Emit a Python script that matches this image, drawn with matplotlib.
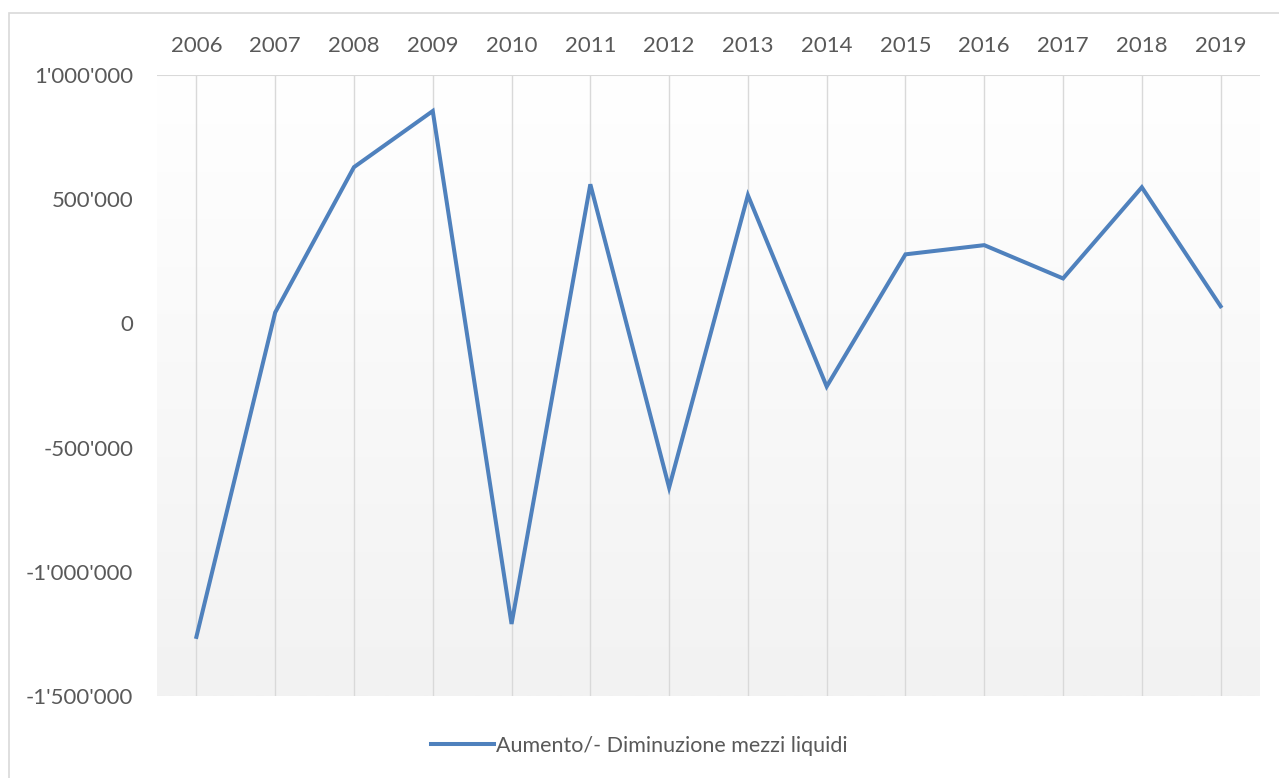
import numpy as np
import matplotlib
matplotlib.use("Agg")
from matplotlib import pyplot as plt
from matplotlib.patches import Rectangle
from matplotlib.ticker import FuncFormatter

years = ['2006', '2007', '2008', '2009', '2010', '2011', '2012',
         '2013', '2014', '2015', '2016', '2017', '2018', '2019']
values = [-1262000, 44000, 629000, 855000, -1210000, 560000, -661000,
          516000, -254000, 278000, 315000, 181000, 548000, 69000]
label = 'Aumento/- Diminuzione mezzi liquidi'

plt.rcParams['font.family'] = ['Lato', 'DejaVu Sans']
txt = '#595959'

W, H = 1279, 778
fig = plt.figure(figsize=(W / 100, H / 100), dpi=100)
# bordo del grafico
fig.patches.append(Rectangle((9 / W, -0.01), 1.02, 1 - 13 / H + 0.01, transform=fig.transFigure,
                             fill=False, edgecolor='#d9d9d9', linewidth=1.2))

ax = fig.add_axes([157 / W, 1 - 696 / H, (1260 - 157) / W, (696 - 75) / H])
x = np.arange(len(years))
ax.set_xlim(-0.5, len(years) - 0.5)
ax.set_ylim(-1500000, 1000000)

# sfondo sfumato
grad = np.linspace(0, 1, 256).reshape(-1, 1)
c0 = np.array([1.0, 1.0, 1.0])
c1 = np.array([0xf2, 0xf2, 0xf2]) / 255
img = c0 + (c1 - c0) * grad[..., None]
ax.imshow(img, extent=[-0.5, len(years) - 0.5, -1500000, 1000000], aspect='auto', zorder=0)

for xi in x:
    ax.axvline(xi, color='#d9d9d9', linewidth=1.0, zorder=1)
ax.axhline(1000000, color='#d9d9d9', linewidth=1.5, zorder=1)

ax.plot(x, values, color='#4f81bd', linewidth=2.9, label=label, zorder=3,
        solid_joinstyle='miter')

for s in ax.spines.values():
    s.set_visible(False)
ax.xaxis.tick_top()
ax.set_xticks(x)
ax.set_xticklabels(years)
ax.set_yticks(np.arange(-1500000, 1000001, 500000))
ax.yaxis.set_major_formatter(FuncFormatter(lambda v, p: f'{int(v):,}'.replace(',', "'")))
ax.tick_params(axis='both', length=0, labelsize=16, labelcolor=txt)
ax.tick_params(axis='x', pad=14)
ax.tick_params(axis='y', pad=17)

leg = fig.legend(loc='center', bbox_to_anchor=(0.5, 1 - 746 / H), frameon=False,
                 fontsize=15.5, handlelength=2.9, handletextpad=0.1)
for t in leg.get_texts():
    t.set_color(txt)

plt.savefig('out.png', dpi=100)
